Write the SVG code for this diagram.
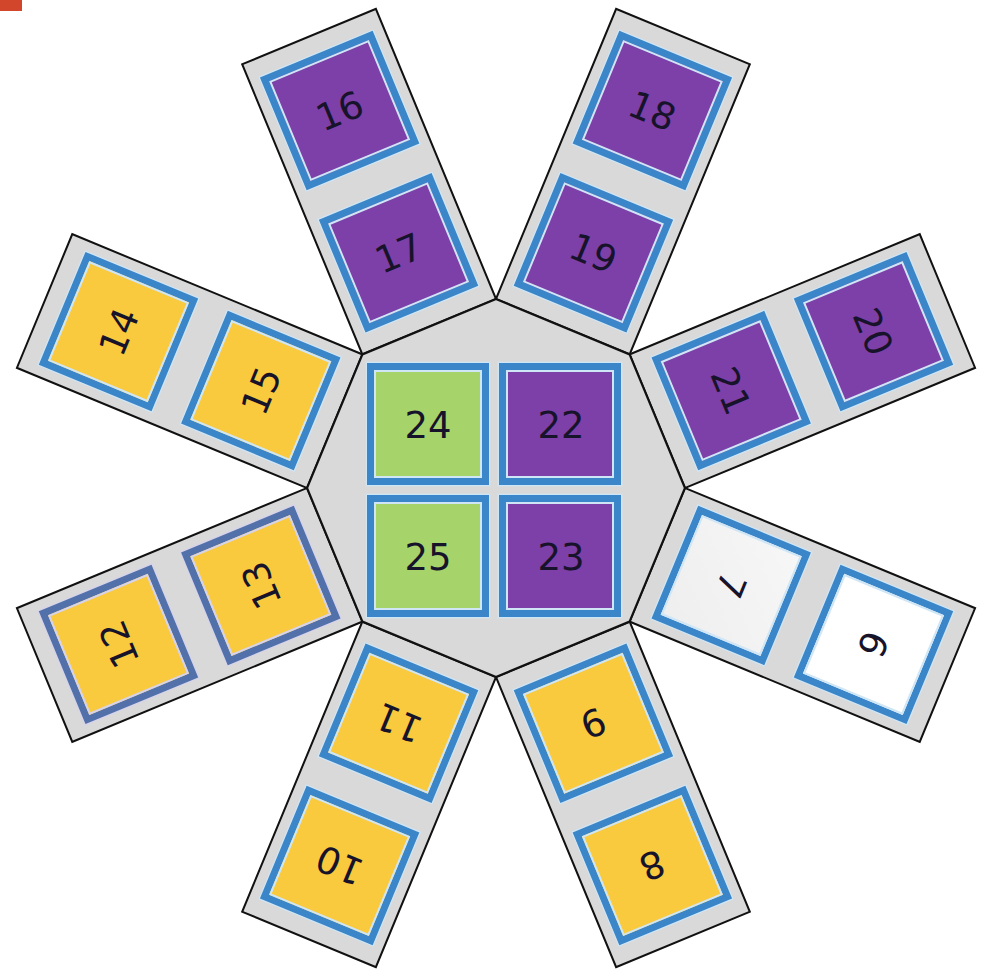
<svg xmlns="http://www.w3.org/2000/svg" width="987" height="973" viewBox="0 0 987 973">
  <defs>
    <linearGradient id="g7" x1="0" y1="0" x2="1" y2="1">
      <stop offset="0" stop-color="#f7f7f7"/>
      <stop offset="1" stop-color="#eeeeee"/>
    </linearGradient>
    <style>
      .arm { fill:#d9d9d9; stroke:#111; stroke-width:2; stroke-linejoin:miter; }
      .oct { fill:#d9d9d9; stroke:#111; stroke-width:2.2; }
      .sq { stroke:#3a86c8; stroke-width:7; }
      .sqg { stroke:#5270aa; stroke-width:7; }
      .halo { fill:none; stroke:#cfe6f6; stroke-width:1.5; }
      .hl { fill:none; stroke:#cfe6f6; stroke-width:2; }
      .hlg { fill:none; stroke:#d6d3ec; stroke-width:2; }
      .pur { fill:#7d3fa8; }
      .yel { fill:#f9c93e; }
      .grn { fill:#a6d46b; }
      .wht { fill:#ffffff; }
      .lgr { fill:url(#g7); }
      .t { font-family:"DejaVu Sans","Liberation Sans",sans-serif; font-size:37px; fill:#17132a; text-anchor:middle; }
    </style>
  </defs>
  <rect x="0" y="0" width="22" height="11" fill="#d2472c"/>

  <!-- arms -->
  <g id="arm-16-17" transform="translate(496 488) rotate(-22.5)">
    <rect class="arm" x="-72.35" y="-488.6" width="144.7" height="314"/>
    <g id="node-16">
      <rect class="halo" x="-61.5" y="-470.1" width="123" height="123"/>
      <rect class="sq pur" x="-57.5" y="-466.1" width="115" height="115"/>
      <rect class="hl" x="-53" y="-461.6" width="106" height="106"/>
      <text class="t" x="0" y="-395">16</text>
    </g>
    <g id="node-17">
      <rect class="halo" x="-61.5" y="-316.1" width="123" height="123"/>
      <rect class="sq pur" x="-57.5" y="-312.1" width="115" height="115"/>
      <rect class="hl" x="-53" y="-307.6" width="106" height="106"/>
      <text class="t" x="0" y="-241">17</text>
    </g>
  </g>
  <g id="arm-18-19" transform="translate(496 488) rotate(22.5)">
    <rect class="arm" x="-72.35" y="-488.6" width="144.7" height="314"/>
    <g id="node-18">
      <rect class="halo" x="-61.5" y="-470.1" width="123" height="123"/>
      <rect class="sq pur" x="-57.5" y="-466.1" width="115" height="115"/>
      <rect class="hl" x="-53" y="-461.6" width="106" height="106"/>
      <text class="t" x="0" y="-395">18</text>
    </g>
    <g id="node-19">
      <rect class="halo" x="-61.5" y="-316.1" width="123" height="123"/>
      <rect class="sq pur" x="-57.5" y="-312.1" width="115" height="115"/>
      <rect class="hl" x="-53" y="-307.6" width="106" height="106"/>
      <text class="t" x="0" y="-241">19</text>
    </g>
  </g>
  <g id="arm-20-21" transform="translate(496 488) rotate(67.5)">
    <rect class="arm" x="-72.35" y="-488.6" width="144.7" height="314"/>
    <g id="node-20">
      <rect class="halo" x="-61.5" y="-470.1" width="123" height="123"/>
      <rect class="sq pur" x="-57.5" y="-466.1" width="115" height="115"/>
      <rect class="hl" x="-53" y="-461.6" width="106" height="106"/>
      <text class="t" x="0" y="-395">20</text>
    </g>
    <g id="node-21">
      <rect class="halo" x="-61.5" y="-316.1" width="123" height="123"/>
      <rect class="sq pur" x="-57.5" y="-312.1" width="115" height="115"/>
      <rect class="hl" x="-53" y="-307.6" width="106" height="106"/>
      <text class="t" x="0" y="-241">21</text>
    </g>
  </g>
  <g id="arm-6-7" transform="translate(496 488) rotate(112.5)">
    <rect class="arm" x="-72.35" y="-488.6" width="144.7" height="314"/>
    <g id="node-6">
      <rect class="halo" x="-61.5" y="-470.1" width="123" height="123"/>
      <rect class="sq wht" x="-57.5" y="-466.1" width="115" height="115"/>
      <rect class="hl" x="-53" y="-461.6" width="106" height="106"/>
      <text class="t" x="0" y="-395">6</text>
    </g>
    <g id="node-7">
      <rect class="halo" x="-61.5" y="-316.1" width="123" height="123"/>
      <rect class="sq lgr" x="-57.5" y="-312.1" width="115" height="115"/>
      <rect class="hl" x="-53" y="-307.6" width="106" height="106"/>
      <text class="t" x="0" y="-241">7</text>
    </g>
  </g>
  <g id="arm-8-9" transform="translate(496 488) rotate(157.5)">
    <rect class="arm" x="-72.35" y="-488.6" width="144.7" height="314"/>
    <g id="node-8">
      <rect class="halo" x="-61.5" y="-470.1" width="123" height="123"/>
      <rect class="sq yel" x="-57.5" y="-466.1" width="115" height="115"/>
      <rect class="hl" x="-53" y="-461.6" width="106" height="106"/>
      <text class="t" x="0" y="-395">8</text>
    </g>
    <g id="node-9">
      <rect class="halo" x="-61.5" y="-316.1" width="123" height="123"/>
      <rect class="sq yel" x="-57.5" y="-312.1" width="115" height="115"/>
      <rect class="hl" x="-53" y="-307.6" width="106" height="106"/>
      <text class="t" x="0" y="-241">9</text>
    </g>
  </g>
  <g id="arm-10-11" transform="translate(496 488) rotate(202.5)">
    <rect class="arm" x="-72.35" y="-488.6" width="144.7" height="314"/>
    <g id="node-10">
      <rect class="halo" x="-61.5" y="-470.1" width="123" height="123"/>
      <rect class="sq yel" x="-57.5" y="-466.1" width="115" height="115"/>
      <rect class="hl" x="-53" y="-461.6" width="106" height="106"/>
      <text class="t" x="0" y="-395">10</text>
    </g>
    <g id="node-11">
      <rect class="halo" x="-61.5" y="-316.1" width="123" height="123"/>
      <rect class="sq yel" x="-57.5" y="-312.1" width="115" height="115"/>
      <rect class="hl" x="-53" y="-307.6" width="106" height="106"/>
      <text class="t" x="0" y="-241">11</text>
    </g>
  </g>
  <g id="arm-12-13" transform="translate(496 488) rotate(247.5)">
    <rect class="arm" x="-72.35" y="-488.6" width="144.7" height="314"/>
    <g id="node-12">
      <rect class="halo" x="-61.5" y="-470.1" width="123" height="123" style="stroke:#d6d3ec"/>
      <rect class="sqg yel" x="-57.5" y="-466.1" width="115" height="115"/>
      <rect class="hlg" x="-53" y="-461.6" width="106" height="106"/>
      <text class="t" x="0" y="-395">12</text>
    </g>
    <g id="node-13">
      <rect class="halo" x="-61.5" y="-316.1" width="123" height="123" style="stroke:#d6d3ec"/>
      <rect class="sqg yel" x="-57.5" y="-312.1" width="115" height="115"/>
      <rect class="hlg" x="-53" y="-307.6" width="106" height="106"/>
      <text class="t" x="0" y="-241">13</text>
    </g>
  </g>
  <g id="arm-14-15" transform="translate(496 488) rotate(292.5)">
    <rect class="arm" x="-72.35" y="-488.6" width="144.7" height="314"/>
    <g id="node-14">
      <rect class="halo" x="-61.5" y="-470.1" width="123" height="123"/>
      <rect class="sq yel" x="-57.5" y="-466.1" width="115" height="115"/>
      <rect class="hl" x="-53" y="-461.6" width="106" height="106"/>
      <text class="t" x="0" y="-395">14</text>
    </g>
    <g id="node-15">
      <rect class="halo" x="-61.5" y="-316.1" width="123" height="123"/>
      <rect class="sq yel" x="-57.5" y="-312.1" width="115" height="115"/>
      <rect class="hl" x="-53" y="-307.6" width="106" height="106"/>
      <text class="t" x="0" y="-241">15</text>
    </g>
  </g>

  <!-- central octagon -->
  <g id="hub">
    <polygon class="oct" points="496,299 629.6,354.4 685,488 629.6,621.6 496,677 362.4,621.6 307,488 362.4,354.4"/>
    <g id="node-24">
      <rect class="halo" x="366.5" y="362.5" width="123" height="123"/>
      <rect class="sq grn" x="370.5" y="366.5" width="115" height="115"/>
      <rect class="hl" x="375" y="371" width="106" height="106"/>
      <text class="t" x="428" y="438">24</text>
    </g>
    <g id="node-22">
      <rect class="halo" x="498.5" y="362.5" width="123" height="123"/>
      <rect class="sq pur" x="502.5" y="366.5" width="115" height="115"/>
      <rect class="hl" x="507" y="371" width="106" height="106"/>
      <text class="t" x="561" y="438">22</text>
    </g>
    <g id="node-25">
      <rect class="halo" x="366.5" y="494.5" width="123" height="123"/>
      <rect class="sq grn" x="370.5" y="498.5" width="115" height="115"/>
      <rect class="hl" x="375" y="503" width="106" height="106"/>
      <text class="t" x="428" y="570">25</text>
    </g>
    <g id="node-23">
      <rect class="halo" x="498.5" y="494.5" width="123" height="123"/>
      <rect class="sq pur" x="502.5" y="498.5" width="115" height="115"/>
      <rect class="hl" x="507" y="503" width="106" height="106"/>
      <text class="t" x="561" y="570">23</text>
    </g>
  </g>
  <g id="connectors"/>
</svg>
